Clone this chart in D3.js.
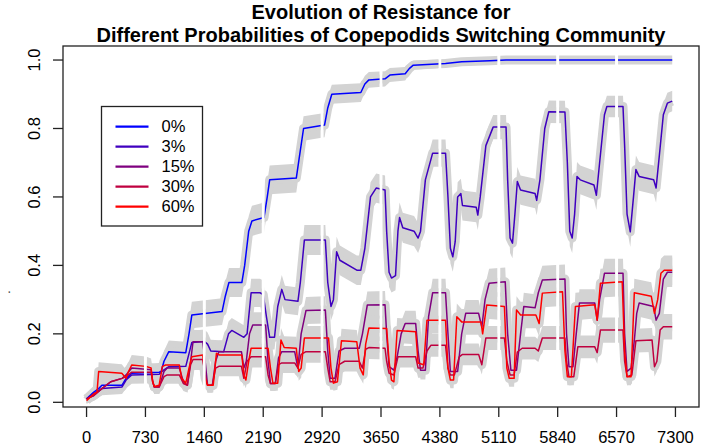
<!DOCTYPE html>
<html><head><meta charset="utf-8">
<script src="https://cdn.jsdelivr.net/npm/d3@7"></script>
<style>body{margin:0;background:#fff}svg{display:block}</style>
</head><body>
<svg id="c" width="703" height="445"></svg>
<script>
const xTicks=[0,730,1460,2190,2920,3650,4380,5110,5840,6570,7300];
const yTicks=[0,0.2,0.4,0.6,0.8,1.0];
const legendLabels=["0%","3%","15%","30%","60%"];
const titleLines=["Evolution of Resistance for","Different Probabilities of Copepodids Switching Community"];

const res0=[[0,0.01],[90,0.03],[150,0.04],[190,0.05],[440,0.05],[490,0.07],[560,0.085],[900,0.088],[925,0.09],[960,0.12],[1020,0.148],[1230,0.145],[1270,0.2],[1305,0.255],[1680,0.265],[1720,0.31],[1765,0.35],[1925,0.35],[1960,0.4],[2010,0.5],[2050,0.53],[2200,0.54],[2240,0.6],[2270,0.65],[2600,0.655],[2640,0.72],[2690,0.8],[2950,0.81],[2990,0.86],[3040,0.9],[3400,0.905],[3450,0.93],[3500,0.942],[3700,0.945],[3760,0.956],[3950,0.96],[4000,0.975],[4050,0.985],[4450,0.99],[4650,0.995],[5000,0.998],[5200,1.0],[7260,1.0]];

const res3=[[0,0.01],[90,0.025],[190,0.04],[440,0.045],[490,0.065],[560,0.08],[900,0.082],[960,0.095],[1020,0.104],[1230,0.105],[1305,0.175],[1460,0.178],[1500,0.17],[1540,0.15],[1700,0.148],[1760,0.2],[1800,0.21],[1950,0.19],[1990,0.2],[2040,0.32],[2150,0.32],[2190,0.315],[2230,0.25],[2270,0.19],[2330,0.19],[2370,0.28],[2420,0.33],[2460,0.3],[2620,0.295],[2650,0.35],[2700,0.474],[2960,0.474],[2990,0.35],[3030,0.28],[3060,0.3],[3100,0.44],[3140,0.415],[3350,0.386],[3400,0.386],[3450,0.45],[3520,0.6],[3590,0.626],[3700,0.62],[3720,0.5],[3750,0.38],[3780,0.363],[3830,0.37],[3860,0.5],[3880,0.54],[3920,0.51],[4060,0.5],[4110,0.48],[4140,0.5],[4200,0.65],[4290,0.728],[4450,0.728],[4480,0.6],[4510,0.45],[4540,0.425],[4570,0.47],[4600,0.6],[4640,0.61],[4660,0.575],[4830,0.57],[4850,0.547],[4880,0.6],[4950,0.75],[5040,0.804],[5200,0.804],[5220,0.65],[5250,0.48],[5280,0.465],[5310,0.55],[5340,0.645],[5380,0.62],[5560,0.61],[5580,0.59],[5620,0.65],[5680,0.8],[5730,0.849],[5930,0.848],[5960,0.7],[5990,0.5],[6020,0.48],[6050,0.55],[6080,0.66],[6120,0.65],[6290,0.635],[6320,0.605],[6360,0.7],[6420,0.84],[6450,0.864],[6650,0.864],[6670,0.75],[6700,0.55],[6740,0.498],[6780,0.6],[6810,0.68],[6850,0.66],[7030,0.65],[7060,0.626],[7100,0.72],[7150,0.84],[7200,0.874],[7260,0.88]];

const res15=[[0,0.01],[90,0.02],[190,0.04],[300,0.06],[440,0.07],[490,0.08],[560,0.1],[800,0.095],[820,0.06],[840,0.045],[900,0.045],[960,0.09],[1000,0.1],[1150,0.1],[1200,0.06],[1250,0.05],[1290,0.12],[1320,0.177],[1440,0.177],[1470,0.12],[1500,0.05],[1560,0.05],[1600,0.12],[1640,0.148],[1920,0.148],[1950,0.1],[1980,0.12],[2020,0.2],[2060,0.226],[2220,0.226],[2250,0.12],[2280,0.055],[2340,0.055],[2380,0.13],[2420,0.148],[2580,0.148],[2620,0.1],[2660,0.2],[2720,0.268],[2960,0.27],[2990,0.15],[3020,0.07],[3080,0.07],[3130,0.15],[3200,0.158],[3380,0.158],[3420,0.2],[3480,0.284],[3700,0.285],[3720,0.2],[3750,0.104],[3810,0.094],[3850,0.133],[3900,0.2],[3950,0.23],[4080,0.23],[4110,0.15],[4140,0.094],[4200,0.094],[4240,0.25],[4290,0.32],[4450,0.32],[4480,0.2],[4510,0.09],[4600,0.09],[4650,0.2],[4700,0.26],[4860,0.26],[4900,0.22],[4940,0.3],[4990,0.348],[5190,0.352],[5220,0.2],[5260,0.094],[5330,0.094],[5380,0.2],[5420,0.28],[5560,0.276],[5600,0.32],[5650,0.357],[5930,0.36],[5950,0.2],[5980,0.104],[6030,0.104],[6070,0.2],[6110,0.29],[6300,0.29],[6330,0.24],[6360,0.3],[6420,0.377],[6650,0.377],[6670,0.2],[6700,0.09],[6750,0.1],[6790,0.18],[6820,0.26],[6850,0.29],[7030,0.28],[7060,0.24],[7100,0.26],[7150,0.36],[7200,0.38],[7260,0.38]];

const res30=[[0,0.01],[90,0.02],[190,0.04],[300,0.06],[440,0.07],[490,0.075],[560,0.088],[800,0.088],[820,0.06],[840,0.045],[900,0.045],[960,0.075],[1000,0.08],[1150,0.08],[1200,0.055],[1250,0.05],[1290,0.11],[1320,0.125],[1440,0.125],[1470,0.08],[1500,0.05],[1560,0.05],[1600,0.1],[1640,0.105],[1920,0.105],[1950,0.07],[1990,0.12],[2040,0.133],[2220,0.133],[2250,0.08],[2280,0.055],[2340,0.055],[2380,0.11],[2420,0.115],[2580,0.115],[2620,0.1],[2660,0.14],[2720,0.148],[2960,0.148],[2990,0.1],[3020,0.06],[3080,0.06],[3130,0.11],[3200,0.12],[3380,0.12],[3420,0.1],[3460,0.155],[3500,0.16],[3700,0.158],[3720,0.12],[3750,0.085],[3810,0.08],[3860,0.133],[4080,0.133],[4110,0.1],[4170,0.1],[4220,0.15],[4270,0.167],[4450,0.167],[4480,0.1],[4510,0.08],[4560,0.08],[4620,0.133],[4660,0.14],[4860,0.14],[4900,0.11],[4950,0.188],[5180,0.188],[5210,0.12],[5250,0.08],[5300,0.08],[5340,0.147],[5400,0.158],[5560,0.158],[5600,0.15],[5650,0.188],[5930,0.188],[5950,0.12],[5980,0.075],[6040,0.075],[6090,0.162],[6300,0.162],[6330,0.145],[6370,0.211],[6650,0.211],[6670,0.12],[6700,0.075],[6760,0.08],[6810,0.18],[7010,0.182],[7040,0.104],[7070,0.12],[7110,0.211],[7150,0.221],[7260,0.221]];

const res60=[[0,0.005],[90,0.025],[130,0.03],[150,0.09],[437,0.085],[490,0.07],[520,0.09],[560,0.109],[735,0.105],[800,0.1],[820,0.06],[840,0.046],[900,0.05],[940,0.105],[980,0.109],[1150,0.109],[1180,0.07],[1230,0.056],[1270,0.1],[1305,0.133],[1440,0.138],[1470,0.07],[1500,0.05],[1570,0.05],[1610,0.143],[1650,0.138],[1925,0.138],[1950,0.08],[1975,0.065],[2010,0.12],[2040,0.158],[2250,0.158],[2280,0.1],[2310,0.056],[2370,0.056],[2410,0.182],[2450,0.16],[2600,0.158],[2630,0.09],[2660,0.1],[2700,0.188],[3000,0.188],[3030,0.1],[3060,0.056],[3110,0.06],[3160,0.18],[3350,0.177],[3390,0.1],[3430,0.08],[3460,0.17],[3500,0.217],[3720,0.216],[3750,0.12],[3780,0.065],[3810,0.06],[3850,0.21],[4080,0.206],[4110,0.115],[4180,0.11],[4220,0.24],[4450,0.24],[4480,0.1],[4510,0.065],[4550,0.065],[4590,0.25],[4650,0.235],[4890,0.235],[4910,0.2],[4960,0.284],[5180,0.28],[5210,0.1],[5240,0.07],[5300,0.07],[5330,0.27],[5380,0.255],[5570,0.255],[5610,0.23],[5650,0.319],[5900,0.323],[5930,0.15],[5960,0.075],[6010,0.075],[6060,0.28],[6300,0.285],[6330,0.24],[6370,0.348],[6640,0.352],[6670,0.15],[6700,0.075],[6750,0.075],[6790,0.32],[7000,0.31],[7040,0.26],[7080,0.3],[7120,0.377],[7160,0.386],[7260,0.386]];

const series=[res0,res3,res15,res30,res60];
const colors=["#0000FF","#3F00BF","#7F007F","#BF003F","#FF0000"];
const bandScale=0.08;

const FONT="'Liberation Sans', Arial, Helvetica, sans-serif";
const svg=d3.select("#c");
const L=63,R=699,T=46,B=407;
const x=d3.scaleLinear().domain([-292,7592]).range([L,R]);
const y=d3.scaleLinear().domain([-0.0137,1.041]).range([B,T]);

const defs=svg.append("defs");
const cp=defs.append("clipPath").attr("id","gapclip");
const gapDays=xTicks.slice(1,-1);
const edges=[L,...gapDays.flatMap(d=>[x(d)-1.5,x(d)+1.5]),R];
for(let i=0;i<edges.length;i+=2){
  cp.append("rect").attr("x",edges[i]).attr("y",T).attr("width",edges[i+1]-edges[i]).attr("height",B-T);
}

const half=v=>bandScale*Math.sqrt(Math.max(v,0)*Math.max(1-v,0))+0.004;
const bandG=svg.append("g").attr("clip-path","url(#gapclip)");
series.forEach(s=>{
  bandG.append("path").datum(s)
    .attr("d",d3.area().x(d=>x(d[0])).y0(d=>y(d[1]-half(d[1]))).y1(d=>y(d[1]+half(d[1]))))
    .attr("fill","#D3D3D3");
  bandG.append("path").datum(s)
    .attr("d",d3.line().x(d=>x(d[0])).y(d=>y(d[1])))
    .attr("fill","none").attr("stroke","#D3D3D3").attr("stroke-width",9).attr("stroke-linejoin","round");
});
const lineG=svg.append("g").attr("clip-path","url(#gapclip)");
series.forEach((s,i)=>{
  lineG.append("path").datum(s)
    .attr("d",d3.line().x(d=>x(d[0])).y(d=>y(d[1])))
    .attr("fill","none").attr("stroke",colors[i]).attr("stroke-width",1.5).attr("stroke-linejoin","round");
});

svg.append("rect").attr("x",L).attr("y",T).attr("width",R-L).attr("height",B-T)
  .attr("fill","none").attr("stroke","#222").attr("stroke-width",1.3);

const xa=svg.append("g");
xTicks.forEach(t=>{
  xa.append("line").attr("x1",x(t)).attr("x2",x(t)).attr("y1",B).attr("y2",B+10).attr("stroke","#222").attr("stroke-width",1.3);
  xa.append("text").attr("x",x(t)).attr("y",443).attr("text-anchor","middle")
    .attr("font-family",FONT).attr("font-size",16.5).text(t);
});
const ya=svg.append("g");
yTicks.forEach(t=>{
  ya.append("line").attr("x1",L-10).attr("x2",L).attr("y1",y(t)).attr("y2",y(t)).attr("stroke","#222").attr("stroke-width",1.3);
  ya.append("text").attr("transform",`translate(40,${y(t)}) rotate(-90)`).attr("text-anchor","middle")
    .attr("font-family",FONT).attr("font-size",16.5).text(t.toFixed(1));
});
svg.append("text").attr("transform","translate(10,292) rotate(-90)").attr("text-anchor","middle")
  .attr("font-family",FONT).attr("font-size",12).text(".");

titleLines.forEach((t,i)=>{
  svg.append("text").attr("x",(L+R)/2).attr("y",19+i*23).attr("text-anchor","middle")
    .attr("font-family",FONT).attr("font-size",20).attr("font-weight","bold").text(t);
});

const lg=svg.append("g");
lg.append("rect").attr("x",101.5).attr("y",106.5).attr("width",101).attr("height",119.5)
  .attr("fill","#fff").attr("stroke","#222").attr("stroke-width",1.3);
legendLabels.forEach((lab,i)=>{
  const yy=126.7+i*20;
  lg.append("line").attr("x1",115.5).attr("x2",148.5).attr("y1",yy).attr("y2",yy)
    .attr("stroke",colors[i]).attr("stroke-width",2.2);
  lg.append("text").attr("x",161.5).attr("y",yy+5.5).attr("font-family",FONT).attr("font-size",16.5).text(lab);
});
</script>
</body></html>
